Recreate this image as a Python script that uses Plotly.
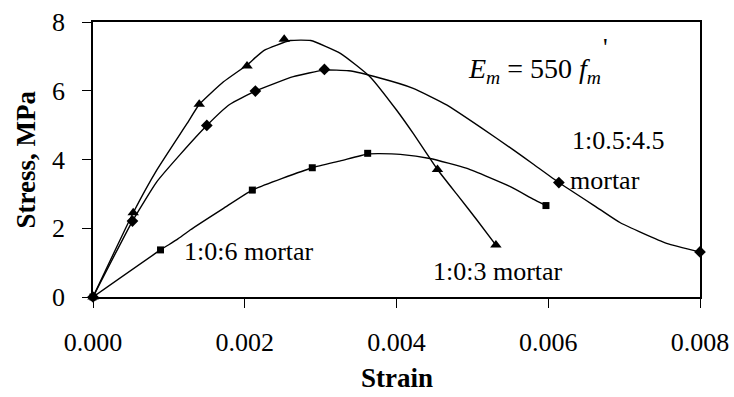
import plotly.graph_objects as go

# ---- data ----
# 1:0:3 mortar (triangles)
m103_x = [0, 0.00053, 0.0014, 0.00203, 0.00252, 0.00454, 0.00531]
m103_y = [0, 2.45, 5.61, 6.72, 7.50, 3.71, 1.51]
c103_x = [0, 0.00053, 0.00084, 0.00124, 0.0014, 0.00172, 0.00203, 0.00225, 0.0026,
          0.00287, 0.00326, 0.00365, 0.0040, 0.00422, 0.00454, 0.00482, 0.00506, 0.00531]
c103_y = [0, 2.45, 3.69, 5.05, 5.6, 6.26, 6.75, 7.17, 7.46,
          7.46, 7.09, 6.41, 5.44, 4.76, 3.71, 2.92, 2.24, 1.51]

# 1:0.5:4.5 mortar (diamonds)
m1045_x = [0, 0.00052, 0.0015, 0.00214, 0.00305, 0.00614, 0.008]
m1045_y = [0, 2.21, 4.99, 5.99, 6.62, 3.33, 1.31]
c1045_x = [0, 0.00052, 0.00084, 0.00115, 0.0015, 0.0018, 0.00214, 0.00264, 0.00305,
           0.00337, 0.00378, 0.00422, 0.00466, 0.0051, 0.00554, 0.0058, 0.00614,
           0.00668, 0.00695, 0.00756, 0.008]
c1045_y = [0, 2.21, 3.35, 4.15, 4.99, 5.6, 5.99, 6.41, 6.6,
           6.58, 6.37, 6.07, 5.59, 4.95, 4.28, 3.87, 3.33,
           2.55, 2.16, 1.56, 1.31]

# 1:0:6 mortar (squares)
m106_x = [0, 0.00089, 0.0021, 0.00289, 0.00362, 0.00597]
m106_y = [0, 1.37, 3.11, 3.76, 4.18, 2.66]
c106_x = [0, 0.00089, 0.0011, 0.00128, 0.00172, 0.0021, 0.00289, 0.00326, 0.00362,
          0.00378, 0.00405, 0.00444, 0.00493, 0.0055, 0.0058, 0.00597]
c106_y = [0, 1.37, 1.66, 1.95, 2.58, 3.11, 3.76, 3.96, 4.16,
          4.17, 4.15, 4.03, 3.74, 3.21, 2.85, 2.66]

x_ticks = [0, 0.002, 0.004, 0.006, 0.008]
x_ticklabels = ["0.000", "0.002", "0.004", "0.006", "0.008"]
y_ticks = [0, 2, 4, 6, 8]

FONT = "Liberation Serif"

fig = go.Figure()
line_style = dict(color="black", width=1.4, shape="spline", smoothing=0.45)
for cx, cy in [(c103_x, c103_y), (c1045_x, c1045_y), (c106_x, c106_y)]:
    fig.add_trace(go.Scatter(x=cx, y=cy, mode="lines", line=line_style,
                             showlegend=False, hoverinfo="skip", cliponaxis=False))
for mx, my, sym, sz in [(m103_x, m103_y, "triangle-up", 10),
                        (m1045_x, m1045_y, "diamond", 9),
                        (m106_x, m106_y, "square", 7)]:
    fig.add_trace(go.Scatter(x=mx, y=my, mode="markers",
                             marker=dict(symbol=sym, size=sz, color="black"),
                             showlegend=False, cliponaxis=False))

ann_font = dict(family=FONT, size=26, color="black")
annotations = [
    dict(x=0.00117, y=1.32, text="1:0:6 mortar", xanchor="left", yanchor="middle"),
    dict(x=0.00446, y=0.74, text="1:0:3 mortar", xanchor="left", yanchor="middle"),
    dict(x=0.00629, y=4.55, text="1:0.5:4.5", xanchor="left", yanchor="middle"),
    dict(x=0.00626, y=3.40, text="mortar", xanchor="left", yanchor="middle"),
    dict(x=0.00491, y=6.60,
         text="<i>E</i><sub><i>m</i></sub> = 550 <i>f</i><sub><i>m</i></sub>",
         xanchor="left", yanchor="middle", font=dict(family=FONT, size=28, color="black")),
    dict(x=0.00675, y=7.25, text="'", xanchor="center", yanchor="middle"),
]
for a in annotations:
    a.update(xref="x", yref="y", showarrow=False)
    a.setdefault("font", ann_font)

# axis titles
annotations += [
    dict(xref="paper", yref="paper", x=0.5, y=-0.357, text="<b>Strain</b>",
         showarrow=False, xanchor="center", yanchor="bottom",
         font=dict(family=FONT, size=27, color="black")),
    dict(xref="paper", yref="paper", x=-0.112, y=0.5, text="<b>Stress, MPa</b>",
         showarrow=False, xanchor="center", yanchor="middle", textangle=-90,
         font=dict(family=FONT, size=27, color="black")),
]

fig.update_layout(
    width=734, height=397,
    margin=dict(l=93, r=34, t=22, b=100, autoexpand=False),
    paper_bgcolor="white", plot_bgcolor="white",
    font=dict(family=FONT, size=26, color="black"),
    annotations=annotations,
)
fig.update_xaxes(
    range=[0, 0.008], tickvals=x_ticks, ticktext=x_ticklabels,
    tickfont=dict(family=FONT, size=26), automargin=False,
    showgrid=False, zeroline=False, showline=True, linecolor="black", linewidth=1.5,
    mirror=True, ticks="outside", ticklen=9, tickcolor="black", tickwidth=1,
    ticklabelstandoff=12,
)
fig.update_yaxes(
    range=[0, 8], tickvals=y_ticks,
    tickfont=dict(family=FONT, size=26), automargin=False,
    showgrid=False, zeroline=False, showline=True, linecolor="black", linewidth=1.5,
    mirror=True, ticks="outside", ticklen=9, tickcolor="black", tickwidth=1,
    ticklabelstandoff=12,
)

fig.write_html("out.html")
